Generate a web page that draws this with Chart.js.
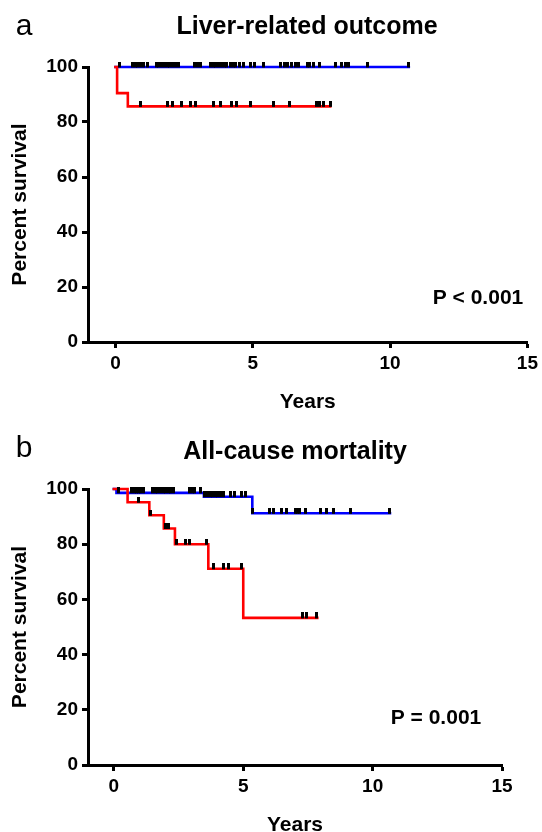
<!DOCTYPE html>
<html><head><meta charset="utf-8">
<script src="https://cdn.jsdelivr.net/npm/chart.js@4.4.0/dist/chart.umd.min.js"></script>
<style>
html,body{margin:0;padding:0;background:#fff;overflow:hidden;width:542px;height:832px;}
#cA{position:absolute;left:0;top:0;}
#cB{position:absolute;left:0;top:416px;}
</style></head><body>
<canvas id="cA" width="542" height="416"></canvas>
<canvas id="cB" width="542" height="430"></canvas>
<script>
// ---------- data ----------
const xTicks = [0, 5, 10, 15];
const yTicks = [0, 20, 40, 60, 80, 100];
const panelLetters = ['a', 'b'];
const panelTitles = ['Liver-related outcome', 'All-cause mortality'];
const pValues = ['P < 0.001', 'P = 0.001'];
const xTitle = 'Years';
const yTitle = 'Percent survival';

// Panel a: liver-related outcome (step points: time, survival %)
const liverBlueT = [0, 10.68];
const liverBlueS = [100, 100];
const liverRedT = [0, 0.06, 0.45, 7.82];
const liverRedS = [100, 90.5, 85.7, 85.7];
const liverBlueCens = [0.15, 0.62, 0.72, 0.82, 0.92, 1.02, 1.16, 1.48, 1.58, 1.68, 1.78, 1.88, 1.98, 2.08, 2.18, 2.28,
  2.88, 2.98, 3.08, 3.46, 3.56, 3.66, 3.76, 3.86, 3.96, 4.06, 4.18, 4.28, 4.38, 4.5, 4.68, 4.92, 5.08, 5.38,
  6.0, 6.16, 6.28, 6.42, 6.54, 6.68, 6.98, 7.08, 7.2, 7.42, 8.02, 8.24, 8.36, 8.5, 9.18, 10.68];
const liverRedCens = [0.9, 1.89, 2.07, 2.41, 2.74, 2.92, 3.58, 3.84, 4.24, 4.42, 4.91, 5.75, 6.32, 7.32, 7.44, 7.56, 7.82];

// Panel b: all-cause mortality
const mortBlueT = [0, 0.1, 3.48, 5.35, 10.67];
const mortBlueS = [100, 98.6, 97.2, 91.2, 91.2];
const mortRedT = [0, 0.53, 1.37, 1.93, 2.36, 3.65, 5.0, 7.86];
const mortRedS = [100, 95.2, 90.5, 85.7, 80.0, 71.1, 53.3, 53.3];
const mortBlueCens = [0.17, 0.68, 0.81, 0.89, 0.97, 1.03, 1.13, 1.5, 1.6, 1.7, 1.8, 1.9, 2.0, 2.1, 2.2, 2.29,
  2.91, 3.02, 3.13, 3.35, 3.52, 3.62, 3.72, 3.82, 3.92, 4.02, 4.12, 4.23, 4.49, 4.68, 4.94, 5.09,
  5.36, 6.01, 6.16, 6.49, 6.68, 7.0, 7.1, 7.19, 7.42, 7.99, 8.23, 8.48, 9.15, 10.67];
const mortRedCens = [0.94, 1.42, 1.98, 2.1, 2.42, 2.78, 2.91, 3.58, 3.84, 4.25, 4.42, 4.94, 7.3, 7.45, 7.84];

// ---------- helpers ----------
const FAMILY = '"Liberation Sans", Arial, Helvetica, sans-serif';
const BLUE = '#0000ff', RED = '#ff0000';

function stepAt(T, S, t) {
  let v = S[0];
  for (let i = 0; i < T.length; i++) { if (T[i] <= t + 1e-9) v = S[i]; }
  return v;
}
function pts(T, S) { return T.map((t, i) => ({x: t, y: S[i]})); }
function censPts(cens, T, S) { return cens.map(t => ({x: t, y: stepAt(T, S, t)})); }

const tickMark = document.createElement('canvas');
tickMark.width = 3; tickMark.height = 11;
(function () { const c = tickMark.getContext('2d'); c.fillStyle = '#000'; c.fillRect(0, 0, 3, 6); })();

const panelText = {
  id: 'panelText',
  afterDraw(chart, args, o) {
    const ctx = chart.ctx;
    ctx.save();
    ctx.fillStyle = '#000';
    ctx.textBaseline = 'alphabetic';
    ctx.textAlign = 'center';
    ctx.font = 'normal ' + o.letterSize + 'px ' + FAMILY;
    ctx.fillText(o.letter, o.letterX, o.letterY);
    ctx.font = 'bold ' + o.titleSize + 'px ' + FAMILY;
    ctx.fillText(o.title, o.titleX, o.titleY);
    ctx.textBaseline = 'middle';
    ctx.font = 'bold ' + o.pSize + 'px ' + FAMILY;
    ctx.fillText(o.p, o.pX, o.pY);
    ctx.restore();
  }
};

function makeChart(id, d, L) {
  const axisCommon = {
    type: 'linear',
    grid: {display: true, drawOnChartArea: false, drawTicks: true, tickLength: 6, tickWidth: 3, tickColor: '#000'},
    border: {display: true, width: 3, color: '#000'},
  };
  return new Chart(document.getElementById(id), {
    type: 'line',
    data: {
      datasets: [
        {data: censPts(d.blueCens, d.blueT, d.blueS), showLine: false, pointStyle: tickMark, pointRadius: 2,
         order: 0, clip: false, borderColor: '#000', backgroundColor: '#000'},
        {data: censPts(d.redCens, d.redT, d.redS), showLine: false, pointStyle: tickMark, pointRadius: 2,
         order: 0, clip: false, borderColor: '#000', backgroundColor: '#000'},
        {data: pts(d.redT, d.redS), stepped: true, borderColor: RED, borderWidth: 2.6, pointRadius: 0,
         fill: false, order: 1, clip: false, borderCapStyle: 'square'},
        {data: pts(d.blueT, d.blueS), stepped: true, borderColor: BLUE, borderWidth: 2.6, pointRadius: 0,
         fill: false, order: 2, clip: false, borderCapStyle: 'square'}
      ]
    },
    options: {
      responsive: false, animation: false, events: [],
      layout: {padding: {left: 0, top: L.top, right: L.right, bottom: 0}},
      scales: {
        x: Object.assign({}, axisCommon, {
          min: -1, max: 15,
          afterBuildTicks: s => { s.ticks = xTicks.map(v => ({value: v})); },
          afterFit: s => { s.height = L.xH; },
          ticks: {color: '#000', font: {family: FAMILY, size: 19, weight: 'bold'}, padding: 4, maxRotation: 0, autoSkip: false},
          title: {display: true, text: xTitle, color: '#000', font: {family: FAMILY, size: 21, weight: 'bold'},
                  padding: {top: 0, bottom: L.xtPad}}
        }),
        y: Object.assign({}, axisCommon, {
          min: 0, max: 100,
          afterBuildTicks: s => { s.ticks = yTicks.map(v => ({value: v})); },
          afterFit: s => { s.width = L.yW; },
          ticks: {color: '#000', font: {family: FAMILY, size: 19, weight: 'bold'}, padding: 4},
          title: {display: true, text: yTitle, color: '#000', font: {family: FAMILY, size: 21, weight: 'bold'},
                  padding: {top: 8, bottom: 0}}
        })
      },
      plugins: {
        legend: {display: false}, tooltip: {enabled: false},
        panelText: L.text
      }
    },
    plugins: [panelText]
  });
}

makeChart('cA', {
  blueT: liverBlueT, blueS: liverBlueS, redT: liverRedT, redS: liverRedS,
  blueCens: liverBlueCens, redCens: liverRedCens
}, {
  top: 67, right: 11, xH: 74, yW: 88, xtPad: 1,
  text: {letter: panelLetters[0], letterX: 24, letterY: 35, letterSize: 30,
         title: panelTitles[0], titleX: 307, titleY: 34, titleSize: 25,
         p: pValues[0], pX: 478, pY: 298, pSize: 21}
});

makeChart('cB', {
  blueT: mortBlueT, blueS: mortBlueS, redT: mortRedT, redS: mortRedS,
  blueCens: mortBlueCens, redCens: mortRedCens
}, {
  top: 73, right: 40, xH: 81, yW: 88, xtPad: 8,
  text: {letter: panelLetters[1], letterX: 24, letterY: 41, letterSize: 30,
         title: panelTitles[1], titleX: 295, titleY: 43, titleSize: 25,
         p: pValues[1], pX: 436, pY: 302, pSize: 21}
});
</script>
</body></html>
